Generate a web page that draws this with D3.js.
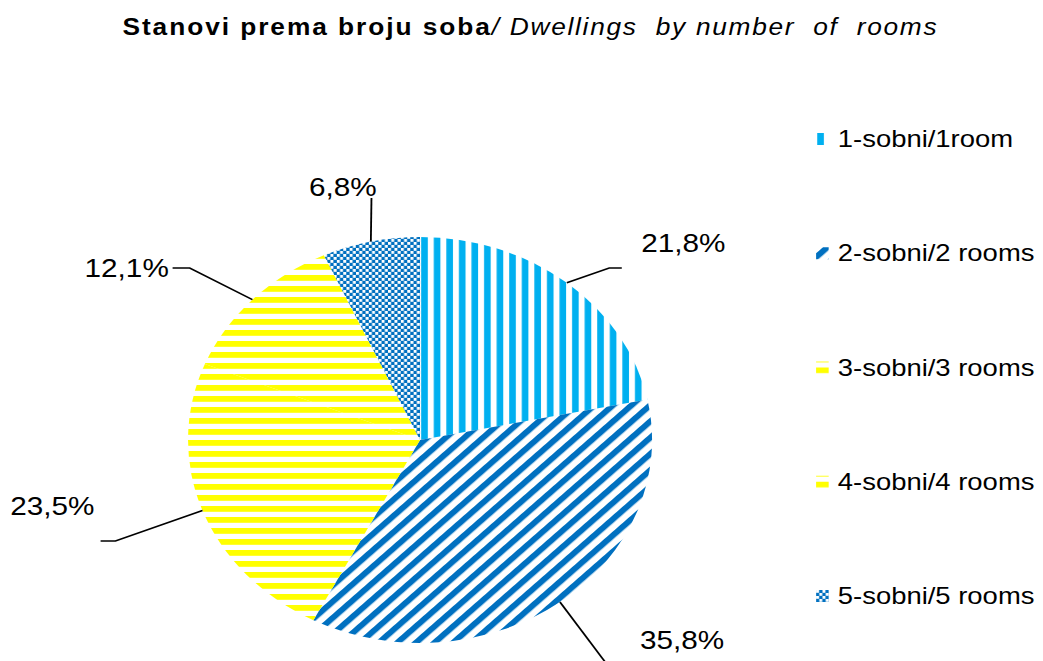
<!DOCTYPE html>
<html>
<head>
<meta charset="utf-8">
<script src="https://cdn.jsdelivr.net/npm/d3@7"></script>
<style>
  body { margin: 0; background: #fff; }
  text { font-family: "Liberation Sans", Arial, sans-serif; fill: #000; }
</style>
</head>
<body>
<div id="chart"></div>
<script>
const categories = ["1-sobni/1room", "2-sobni/2 rooms", "3-sobni/3 rooms", "4-sobni/4 rooms", "5-sobni/5 rooms"];
const values = [21.8, 35.8, 23.5, 12.1, 6.8];
const valueLabels = ["21,8%", "35,8%", "23,5%", "12,1%", "6,8%"];

const width = 1043, height = 661;
// the original chart is stretched sideways, so draw everything in a squeezed space
const SX = 1.143;
const cx = 367.5, cy = 440, radius = 203;

// label placement (pre-stretch coords): text anchor point, then leader elbow / end
const labelLayout = [
  { x: 561, y: 252, anchor: "start", elbow: [533, 268], end: [544, 268] },
  { x: 560, y: 649, anchor: "start", elbow: [538, 675], end: [538, 675] },
  { x: 9,   y: 515, anchor: "start", elbow: [101, 541], end: [88, 541] },
  { x: 74,  y: 277, anchor: "start", elbow: [166, 268], end: [151, 268] },
  { x: 300, y: 196, anchor: "middle", elbow: [325, 198], end: [325, 198] }
];

const svg = d3.select("#chart").append("svg")
  .attr("width", width)
  .attr("height", height);

const defs = svg.append("defs");

// 1 room: vertical light blue stripes
const p1 = defs.append("pattern").attr("id", "p1")
  .attr("patternUnits", "userSpaceOnUse").attr("width", 11).attr("height", 11);
p1.append("rect").attr("x", 1).attr("y", 0).attr("width", 5.8).attr("height", 11).attr("fill", "#00B0F0");

// 2 rooms: upward diagonal dark blue stripes
const p2 = defs.append("pattern").attr("id", "p2")
  .attr("patternUnits", "userSpaceOnUse").attr("width", 11.5).attr("height", 11.5)
  .attr("patternTransform", "rotate(-45)");
p2.append("rect").attr("x", 0).attr("y", 0).attr("width", 11.5).attr("height", 5.6).attr("fill", "#0070C0");

// 3 and 4 rooms: horizontal yellow stripes
["p3", "p4"].forEach(id => {
  const p = defs.append("pattern").attr("id", id)
    .attr("patternUnits", "userSpaceOnUse").attr("width", 11).attr("height", 11);
  p.append("rect").attr("x", 0).attr("y", 0).attr("width", 11).attr("height", 5.8).attr("fill", "#FFFF00");
});

// 5 rooms: checker
const p5 = defs.append("pattern").attr("id", "p5")
  .attr("patternUnits", "userSpaceOnUse").attr("width", 5.6).attr("height", 6);
p5.append("rect").attr("width", 5.6).attr("height", 6).attr("fill", "#0070C0");
p5.append("rect").attr("x", 0).attr("y", 0).attr("width", 2.6).attr("height", 2.8).attr("fill", "#fff");
p5.append("rect").attr("x", 2.8).attr("y", 3).attr("width", 2.6).attr("height", 2.8).attr("fill", "#fff");

const fills = ["url(#p1)", "url(#p2)", "url(#p3)", "url(#p4)", "url(#p5)"];

const g = svg.append("g").attr("transform", `scale(${SX},1)`);

// title
const title = g.append("text")
  .attr("x", 464)
  .attr("y", 35)
  .attr("text-anchor", "middle")
  .style("font-size", "23px")
  .style("white-space", "pre");
title.append("tspan").style("font-weight", "bold").style("letter-spacing", "1.7px").text("Stanovi prema broju soba");
title.append("tspan").style("font-style", "italic").style("letter-spacing", "1.5px").text("/ Dwellings  by number  of  rooms");

const pie = d3.pie().value(d => d).sort(null);
const arcs = pie(values);

const arc = d3.arc().innerRadius(0).outerRadius(radius);
const edgeArc = d3.arc().innerRadius(radius).outerRadius(radius);

const pieG = g.append("g").attr("transform", `translate(${cx},${cy})`);

pieG.selectAll("path.slice")
  .data(arcs)
  .enter().append("path")
  .attr("class", "slice")
  .attr("d", arc)
  .attr("fill", (d, i) => fills[i]);

// leader lines and value labels
arcs.forEach((d, i) => {
  const c = edgeArc.centroid(d);
  const L = labelLayout[i];
  const pts = [[cx + c[0], cy + c[1]], L.elbow, L.end];
  g.append("path")
    .attr("d", d3.line()(pts))
    .attr("fill", "none")
    .attr("stroke", "#000")
    .attr("stroke-width", 1.6);
  g.append("text")
    .attr("x", L.x)
    .attr("y", L.y)
    .attr("text-anchor", L.anchor)
    .style("font-size", "26px")
    .text(valueLabels[i]);
});

// legend
const legendY = d3.scalePoint().domain(categories).range([139, 596]);
const legend = g.selectAll("g.legend")
  .data(categories)
  .enter().append("g")
  .attr("class", "legend")
  .attr("transform", d => `translate(714,${legendY(d)})`);

legend.append("rect")
  .attr("x", 0)
  .attr("y", -6)
  .attr("width", 11)
  .attr("height", 12)
  .attr("fill", (d, i) => fills[i]);

legend.append("text")
  .attr("x", 19)
  .attr("y", 8)
  .style("font-size", "24px")
  .text(d => d);
</script>
</body>
</html>
